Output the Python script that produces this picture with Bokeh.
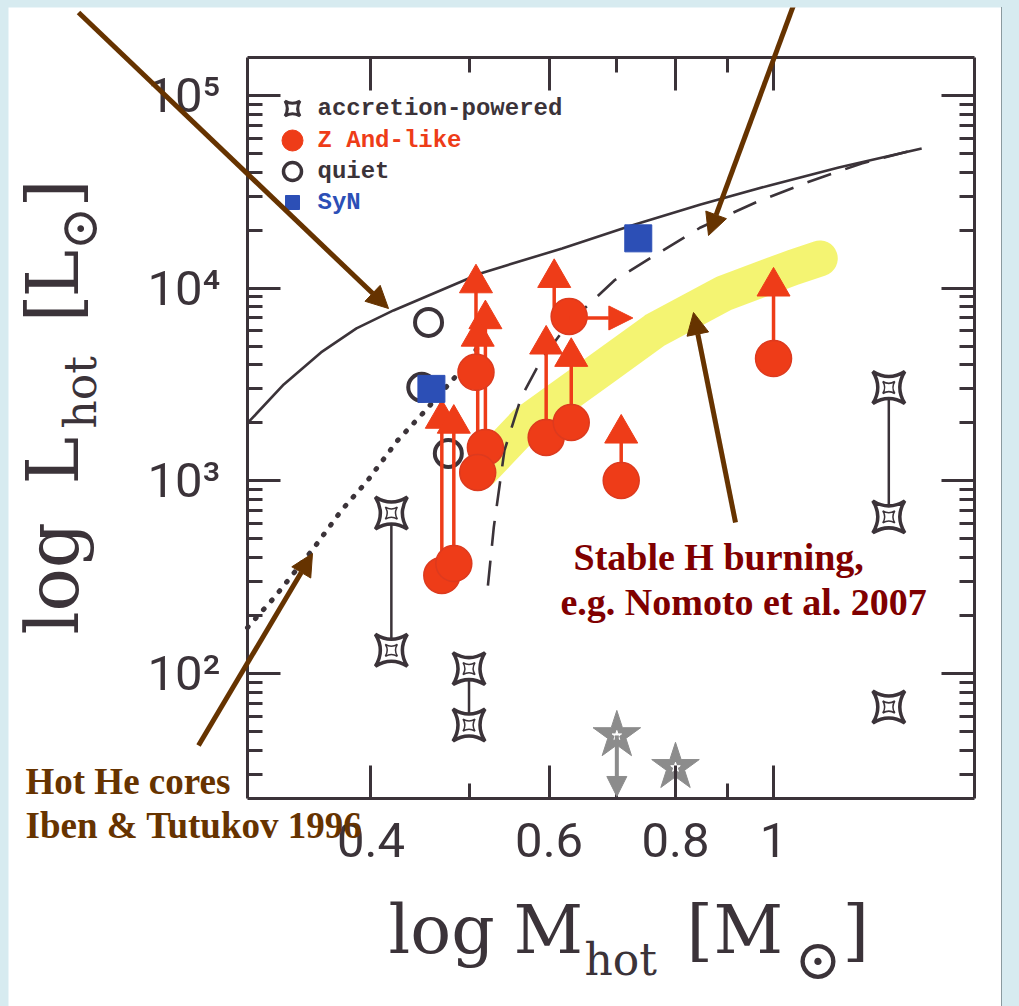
import math
from bokeh.plotting import figure
from bokeh.models import (LogAxis, FixedTicker, Label, Arrow, NormalHead, Range1d)
from bokeh.embed import file_html
from bokeh.resources import INLINE

# ---------------- data ----------------
# accretion-powered systems (ranges joined by a line)
acc_m = [0.419, 0.419, 0.50, 0.50, 1.30, 1.30, 1.30]
acc_L = [680, 132, 106, 54, 3050, 650, 67]
acc_rng_m = [0.419, 0.50, 1.30]
acc_rng_top = [680, 106, 3050]
acc_rng_bot = [132, 54, 650]

# Z And-like systems
zand_m = [0.508, 0.519, 0.510, 0.470, 0.483, 0.596, 0.631, 0.628, 0.707, 1.00]
zand_L = [3660, 1490, 1106, 323, 372, 1680, 2010, 7130, 1005, 4315]
# lower limits in L (arrow with triangle head)
ll_m = [0.508, 0.519, 0.510, 0.470, 0.483, 0.596, 0.631, 0.607, 0.707, 1.00]
ll_from = [3660, 1490, 1106, 323, 372, 1680, 2010, 7130, 1005, 4315]
ll_to = [10600, 6900, 5600, 2100, 1980, 5100, 4400, 11300, 1760, 10200]
# lower limit in M (arrow to the right)
lm_m_from = [0.628]
lm_m_to = [0.726]
lm_L = [7000]

# quiet systems
quiet_m = [0.456, 0.449, 0.477]
quiet_L = [6640, 3055, 1387]

# symbiotic novae
syn_m = [0.459, 0.735]
syn_L = [3000, 18130]

# grey stars (one upper limit)
gs_m = [0.70, 0.80]
gs_L = [47.7, 32.6]
gs_ul_to = [23.0]

# model curves
solid_m = [0.302, 0.328, 0.357, 0.387, 0.421, 0.513, 0.618, 0.724, 0.847, 0.991, 1.160, 1.401]
solid_L = [1990, 3165, 4640, 6180, 7660, 11920, 16070, 21150, 27190, 34120, 42300, 53100]
dashed_m = [0.522, 0.529, 0.542, 0.563, 0.589, 0.627, 0.696, 0.763, 0.847, 0.960, 1.079, 1.222, 1.370]
dashed_L = [286, 573, 1438, 2710, 4220, 6560, 10960, 14790, 20650, 27840, 35370, 44360, 51840]
dotted_m = [0.302, 0.321, 0.351, 0.374, 0.397, 0.425, 0.451, 0.486, 0.512]
dotted_L = [173, 248, 446, 702, 1004, 1620, 2265, 3524, 5045]
# highlighted stable-burning strip
yellow_m = [0.514, 0.569, 0.673, 0.763, 0.893, 1.045, 1.111]
yellow_L = [1132, 1985, 3740, 6030, 9390, 12800, 14260]

x_major = [0.4, 0.6, 0.8, 1.0]
x_minor = [0.5, 0.7, 0.9]
x_labels = ["0.4", "0.6", "0.8", "1"]
y_major = [1e2, 1e3, 1e4, 1e5]
y_labels = ["10²", "10³", "10⁴", "10⁵"]
y_minor = [k * 10 ** e for e in (1, 2, 3, 4) for k in range(2, 10) if k * 10 ** e > 22.5]

legend_names = ["accretion-powered", "Z And-like", "quiet", "SyN"]

# ---------------- layout ----------------
XMIN, XMAX = 0.302, 1.58          # plot box limits
YMIN, YMAX = 22.45, 157400.0
OX, OY = 8, 7                     # page offset of the figure
W, H = 993, 999
FL, FR, FT, FB = 247, 974, 57, 798   # plot box edges in page pixels
KX = math.log10(XMAX / XMIN) / (FR - FL)
KY = math.log10(YMAX / YMIN) / (FB - FT)
x_lo = 10 ** (math.log10(XMIN) - (FL - OX) * KX)
x_hi = 10 ** (math.log10(XMAX) + (OX + W - FR) * KX)
y_lo = 10 ** (math.log10(YMIN) - (OY + H - FB) * KY)
y_hi = 10 ** (math.log10(YMAX) + (FT - OY) * KY)


def px(X, Y):
    """page pixel -> data coordinates (used for annotation placement)"""
    m = 10 ** (math.log10(XMIN) + (X - FL) * KX)
    l = 10 ** (math.log10(YMIN) + (FB - Y) * KY)
    return m, l


INK = "#3b3339"
RED = "#ee3c18"
BLUE = "#2c4fb6"
GREY = "#8c8c8c"
BROWN = "#663300"
DARKRED = "#800000"
SERIF_SHIFT = 0.41    # baseline -> text middle (DejaVu Serif)
BOLD_SHIFT = 0.31     # baseline -> text middle (Liberation Serif bold)

p = figure(width=W, height=H, x_axis_type="log", y_axis_type="log",
           x_range=Range1d(x_lo, x_hi), y_range=Range1d(y_lo, y_hi),
           x_axis_location=None, y_axis_location=None, title=None,
           toolbar_location=None, output_backend="svg", min_border=0,
           background_fill_color="white", border_fill_color="white",
           outline_line_color=None)
p.styles = {"outline": "1px solid #8a9a9f"}
p.xgrid.visible = False
p.ygrid.visible = False


def style_axis(ax, labels):
    ax.axis_line_width = 3
    ax.axis_line_color = INK
    ax.major_tick_in = 33
    ax.major_tick_out = 0
    ax.minor_tick_in = 15
    ax.minor_tick_out = 0
    ax.major_tick_line_width = 3
    ax.minor_tick_line_width = 3
    ax.major_tick_line_color = INK
    ax.minor_tick_line_color = INK
    ax.major_label_text_color = INK
    if labels:
        ax.major_label_text_font = "Roboto"
        ax.major_label_text_font_size = "49px"
    else:
        ax.major_label_text_font_size = "1px"
        ax.major_label_standoff = 0


xt = FixedTicker(ticks=x_major, minor_ticks=x_minor)
yt = FixedTicker(ticks=y_major, minor_ticks=y_minor)

bottom = LogAxis(ticker=xt, fixed_location=YMIN, bounds=(XMIN, XMAX),
                 major_label_overrides=dict(zip(x_major, x_labels)))
style_axis(bottom, True)
bottom.major_label_standoff = 24
top = LogAxis(ticker=xt, fixed_location=YMAX, bounds=(XMIN, XMAX),
              major_label_overrides={v: "" for v in x_major})
style_axis(top, False)
left = LogAxis(ticker=yt, fixed_location=XMIN, bounds=(YMIN, YMAX),
               major_label_overrides=dict(zip(y_major, y_labels)))
style_axis(left, True)
left.major_label_standoff = 27
right = LogAxis(ticker=yt, fixed_location=XMAX, bounds=(YMIN, YMAX),
                major_label_overrides={v: "" for v in y_major})
style_axis(right, False)
p.add_layout(bottom, "below")
p.add_layout(top, "above")
p.add_layout(left, "left")
p.add_layout(right, "right")

# highlighted strip
p.line(yellow_m, yellow_L, line_color="#f3f366", line_width=36, line_cap="round",
       line_join="round", line_alpha=0.92)

# model curves
p.line(dotted_m, dotted_L, line_color=INK, line_width=5, line_dash="1 11", line_cap="round")
p.line(dashed_m, dashed_L, line_color=INK, line_width=2.6, line_dash="25 15")
p.line(solid_m, solid_L, line_color=INK, line_width=2.6, line_join="round")

# accretion-powered
p.segment(x0=acc_rng_m, y0=acc_rng_top, x1=acc_rng_m, y1=acc_rng_bot, line_color=INK, line_width=2.5)
p.scatter(acc_m, acc_L, marker="square_pin", size=32, fill_color="white", line_color=INK, line_width=3.5)
p.scatter(acc_m, acc_L, marker="square_pin", size=12, fill_color="white", line_color=INK, line_width=1.5)

# quiet
p.scatter(quiet_m, quiet_L, marker="circle", size=27, fill_color=None, line_color=INK, line_width=4)

# Z And-like: lower-limit arrows, heads and points
p.segment(x0=ll_m, y0=ll_from, x1=ll_m, y1=ll_to, line_color=RED, line_width=3.5)
p.scatter(ll_m, ll_to, marker="triangle", size=33, fill_color=RED, line_color=RED, line_width=1)
for m0, m1, l in zip(lm_m_from, lm_m_to, lm_L):
    p.add_layout(Arrow(end=NormalHead(size=24, fill_color=RED, line_color=RED),
                       x_start=m0, y_start=l, x_end=m1, y_end=l,
                       line_color=RED, line_width=3.5))
p.scatter(zand_m, zand_L, marker="circle", size=36, fill_color=RED, line_color="#dd3a1e", line_width=1.5)

# SyN
p.scatter(syn_m, syn_L, marker="square", size=27, fill_color=BLUE, line_color=BLUE)

# grey stars
p.add_layout(Arrow(end=NormalHead(size=20, fill_color=GREY, line_color=GREY),
                   x_start=gs_m[0], y_start=gs_L[0], x_end=gs_m[0], y_end=gs_ul_to[0],
                   line_color=GREY, line_width=4))
p.scatter(gs_m, gs_L, marker="star", size=50, fill_color=GREY, line_color=GREY)
p.scatter(gs_m, gs_L, marker="star", size=10, fill_color="white", line_color="white")

# ---------------- in-plot legend ----------------
leg_rows = [108, 140, 171, 202]
mk_x = 292
m, l = px(mk_x, leg_rows[0])
p.scatter([m], [l], marker="square_pin", size=15, fill_color="white", line_color=INK, line_width=3)
m, l = px(mk_x, leg_rows[1])
p.scatter([m], [l], marker="circle", size=21, fill_color=RED, line_color=RED)
m, l = px(mk_x, leg_rows[2])
p.scatter([m], [l], marker="circle", size=18, fill_color=None, line_color=INK, line_width=3.5)
m, l = px(mk_x, leg_rows[3])
p.scatter([m], [l], marker="square", size=14, fill_color=BLUE, line_color=BLUE)
for name, row, col in zip(legend_names, leg_rows, [INK, RED, INK, BLUE]):
    m, l = px(317, row)
    p.add_layout(Label(x=m, y=l, text=name, text_font="Liberation Mono", text_font_style="bold",
                       text_font_size="24px", text_color=col, text_align="left",
                       text_baseline="middle"))

# ---------------- axis titles (pieces) ----------------
# (text, baseline x, start y, font px) -- rotated, reading upwards
ypieces = [("log", 82, 634, 72), ("L", 82, 484, 72), ("hot", 98, 428, 44),
           ("[", 82, 322, 72), ("L", 82, 297, 72), ("⊙", 100, 250, 52), ("]", 82, 207, 72)]
for t, X, Y, fs in ypieces:
    m, l = px(X - SERIF_SHIFT * fs, Y)
    p.add_layout(Label(x=m, y=l, text=t, angle=math.pi / 2, text_font="DejaVu Serif",
                       text_font_size=f"{fs}px", text_color=INK, text_align="left",
                       text_baseline="middle"))
# (text, left x, baseline y, font px)
xpieces = [("log", 388, 957, 68), ("M", 513, 957, 68), ("hot", 584, 977, 44),
           ("[", 686, 957, 68), ("M", 713, 957, 68), ("⊙", 794, 982, 56), ("]", 842, 957, 68)]
for t, X, Y, fs in xpieces:
    m, l = px(X, Y - SERIF_SHIFT * fs)
    p.add_layout(Label(x=m, y=l, text=t, text_font="DejaVu Serif",
                       text_font_size=f"{fs}px", text_color=INK, text_align="left",
                       text_baseline="middle"))

# ---------------- annotations ----------------
for (X0, Y0, X1, Y1) in [(78, 12, 388, 308), (797, -6, 708, 235), (735, 522, 693, 312), (198, 745, 312, 553)]:
    m0, l0 = px(X0, Y0)
    m1, l1 = px(X1, Y1)
    p.add_layout(Arrow(end=NormalHead(size=22, fill_color=BROWN, line_color=BROWN),
                       x_start=m0, y_start=l0, x_end=m1, y_end=l1,
                       line_color=BROWN, line_width=5))

for t, X, Y, col in [("Stable H burning,", 573, 568, DARKRED),
                     ("e.g. Nomoto et al. 2007", 560, 613, DARKRED),
                     ("Hot He cores", 25, 792, BROWN),
                     ("Iben & Tutukov 1996", 25, 836, BROWN)]:
    fs = 38 if col == DARKRED else 37
    m, l = px(X, Y - BOLD_SHIFT * fs)
    p.add_layout(Label(x=m, y=l, text=t, text_font="Liberation Serif", text_font_style="bold",
                       text_font_size=f"{fs}px", text_color=col, text_align="left",
                       text_baseline="middle"))

html = file_html(p, INLINE, title="log L_hot vs log M_hot")
html = html.replace("<head>", "<head><style>html,body{background:#d7ebf0 !important;}"
                    "body{margin:7px 0 0 8px !important;}</style>", 1)
open("out.html", "w").write(html)
